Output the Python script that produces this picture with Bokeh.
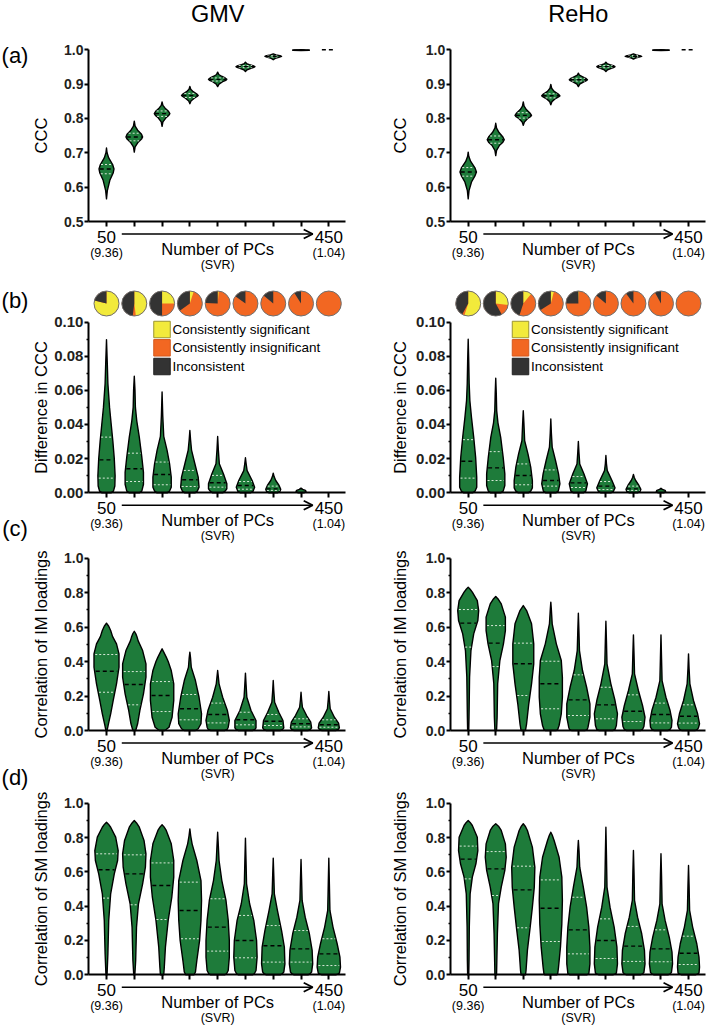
import numpy as np
from bokeh.plotting import figure
from bokeh.models import Range1d, LinearAxis, FixedTicker, PrintfTickFormatter, Arrow, OpenHead
from bokeh.core.properties import value
from bokeh.embed import file_html
from bokeh.resources import INLINE

# ---------------------------------------------------------------- data
COLUMN_TITLES = ["GMV", "ReHo"]
PANEL_TAGS = ["(a)", "(b)", "(c)", "(d)"]
Y_LABELS = ["CCC", "Difference in CCC", "Correlation of IM loadings", "Correlation of SM loadings"]
N_PCS = [50, 100, 150, 200, 250, 300, 350, 400, 450]
X_END_LABELS = ["50", "450"]
X_END_SUBLABELS = ["(9.36)", "(1.04)"]
X_TITLE = "Number of PCs"
X_SUBTITLE = "(SVR)"
LEGEND_LABELS = ["Consistently significant", "Consistently insignificant", "Inconsistent"]
Y_TICKS_A = [0.5, 0.6, 0.7, 0.8, 0.9, 1.0]
Y_TICKS_B = [0.0, 0.02, 0.04, 0.06, 0.08, 0.10]
Y_TICKS_CD = [0.0, 0.2, 0.4, 0.6, 0.8, 1.0]

# pie fractions (clockwise from 12 o'clock): significant, insignificant; rest = inconsistent
GMV_PIE_SIG = [0.79, 0.48, 0.25, 0.05, 0.015, 0.0, 0.0, 0.0, 0.0]
GMV_PIE_INSIG = [0.0, 0.04, 0.25, 0.60, 0.74, 0.85, 0.86, 0.91, 1.0]
REHO_PIE_SIG = [0.55, 0.27, 0.11, 0.04, 0.01, 0.0, 0.0, 0.0, 0.0]
REHO_PIE_INSIG = [0.03, 0.15, 0.44, 0.62, 0.74, 0.86, 0.90, 0.92, 1.0]

# violin outlines: [value, half-width] knots, bottom to top
GMV_A_SHAPE = [
    [[0.566, 0], [0.59, 0.03], [0.62, 0.12], [0.641, 0.24], [0.653, 0.27], [0.666, 0.22], [0.685, 0.08], [0.70, 0.02], [0.714, 0]],
    [[0.702, 0], [0.717, 0.03], [0.731, 0.14], [0.740, 0.26], [0.746, 0.30], [0.754, 0.26], [0.766, 0.12], [0.778, 0.03], [0.792, 0]],
    [[0.777, 0], [0.790, 0.03], [0.802, 0.14], [0.809, 0.24], [0.814, 0.28], [0.821, 0.23], [0.830, 0.11], [0.838, 0.03], [0.848, 0]],
    [[0.843, 0], [0.851, 0.04], [0.859, 0.16], [0.864, 0.26], [0.867, 0.30], [0.872, 0.24], [0.878, 0.12], [0.885, 0.03], [0.893, 0]],
    [[0.893, 0], [0.900, 0.05], [0.907, 0.18], [0.911, 0.29], [0.914, 0.33], [0.918, 0.27], [0.923, 0.14], [0.928, 0.04], [0.935, 0]],
    [[0.937, 0], [0.942, 0.06], [0.946, 0.20], [0.949, 0.30], [0.951, 0.34], [0.954, 0.27], [0.957, 0.14], [0.960, 0.04], [0.964, 0]],
    [[0.971, 0], [0.975, 0.07], [0.978, 0.20], [0.981, 0.30], [0.983, 0.24], [0.985, 0.10], [0.988, 0]],
    [[0.998, 0], [0.9985, 0.30], [0.9995, 0.30], [1.0, 0]],
    None,
]
GMV_A_MED = [0.653, 0.746, 0.814, 0.867, 0.914, 0.951, 0.981, 0.999, 1.0]
GMV_A_Q3 = [0.666, 0.757, 0.822, 0.873, 0.918, 0.954, 0.983, None, None]
GMV_A_Q1 = [0.639, 0.735, 0.806, 0.861, 0.909, 0.948, 0.979, None, None]

REHO_A_SHAPE = [
    [[0.566, 0], [0.59, 0.03], [0.615, 0.12], [0.632, 0.24], [0.644, 0.30], [0.657, 0.24], [0.675, 0.09], [0.69, 0.02], [0.702, 0]],
    [[0.692, 0], [0.707, 0.03], [0.722, 0.14], [0.731, 0.26], [0.738, 0.31], [0.746, 0.26], [0.759, 0.12], [0.772, 0.03], [0.786, 0]],
    [[0.780, 0], [0.790, 0.04], [0.800, 0.16], [0.805, 0.26], [0.809, 0.30], [0.816, 0.24], [0.826, 0.11], [0.836, 0.03], [0.848, 0]],
    [[0.840, 0], [0.849, 0.04], [0.858, 0.17], [0.863, 0.28], [0.866, 0.33], [0.871, 0.27], [0.879, 0.12], [0.888, 0.03], [0.899, 0]],
    [[0.893, 0], [0.900, 0.05], [0.906, 0.18], [0.910, 0.29], [0.913, 0.33], [0.917, 0.27], [0.922, 0.14], [0.926, 0.04], [0.932, 0]],
    [[0.937, 0], [0.942, 0.06], [0.946, 0.20], [0.949, 0.30], [0.951, 0.33], [0.954, 0.27], [0.957, 0.14], [0.960, 0.04], [0.964, 0]],
    [[0.973, 0], [0.976, 0.07], [0.979, 0.20], [0.981, 0.30], [0.983, 0.22], [0.985, 0.10], [0.988, 0]],
    [[0.998, 0], [0.9985, 0.30], [0.9995, 0.30], [1.0, 0]],
    None,
]
REHO_A_MED = [0.644, 0.738, 0.809, 0.866, 0.913, 0.951, 0.981, 0.999, 1.0]
REHO_A_Q3 = [0.657, 0.749, 0.817, 0.872, 0.917, 0.954, 0.983, None, None]
REHO_A_Q1 = [0.632, 0.728, 0.801, 0.860, 0.909, 0.948, 0.979, None, None]

GMV_B_SHAPE = [
    [[0, 0.16], [0.001, 0.25], [0.004, 0.30], [0.01, 0.31], [0.02, 0.28], [0.03, 0.23], [0.04, 0.17], [0.05, 0.11], [0.064, 0.05], [0.075, 0.03], [0.0896, 0]],
    [[0, 0.18], [0.001, 0.27], [0.005, 0.33], [0.012, 0.33], [0.021, 0.27], [0.0326, 0.18], [0.042, 0.09], [0.05, 0.04], [0.06, 0.025], [0.0682, 0]],
    [[0, 0.18], [0.001, 0.27], [0.0033, 0.33], [0.0092, 0.33], [0.017, 0.27], [0.0248, 0.18], [0.033, 0.06], [0.045, 0.025], [0.059, 0]],
    [[0, 0.18], [0.001, 0.27], [0.0033, 0.33], [0.0092, 0.30], [0.017, 0.18], [0.025, 0.06], [0.031, 0.025], [0.0365, 0]],
    [[0, 0.18], [0.001, 0.27], [0.0023, 0.33], [0.0053, 0.33], [0.011, 0.21], [0.017, 0.06], [0.025, 0.025], [0.033, 0]],
    [[0, 0.18], [0.0008, 0.27], [0.0033, 0.33], [0.0072, 0.24], [0.013, 0.06], [0.017, 0.025], [0.0205, 0]],
    [[0, 0.15], [0.0008, 0.24], [0.0021, 0.27], [0.0043, 0.21], [0.0072, 0.09], [0.0095, 0.03], [0.0115, 0]],
    [[0, 0.10], [0.0007, 0.18], [0.0014, 0.16], [0.002, 0.06], [0.0027, 0]],
    None,
]
GMV_B_MED = [0.0193, 0.0141, 0.0107, 0.0076, 0.0059, 0.0043, 0.0023, None, None]
GMV_B_Q3 = [0.0326, 0.0232, 0.018, 0.0131, 0.0102, 0.0066, 0.0039, None, None]
GMV_B_Q1 = [0.0086, 0.0066, 0.0047, 0.0037, 0.0033, 0.0021, 0.0014, None, None]

REHO_B_SHAPE = [
    [[0, 0.16], [0.001, 0.25], [0.0033, 0.31], [0.0091, 0.31], [0.0208, 0.27], [0.0325, 0.20], [0.044, 0.12], [0.054, 0.06], [0.064, 0.035], [0.077, 0.02], [0.0899, 0]],
    [[0, 0.18], [0.001, 0.27], [0.0043, 0.33], [0.0111, 0.33], [0.0208, 0.27], [0.0325, 0.18], [0.041, 0.08], [0.048, 0.035], [0.058, 0.02], [0.0671, 0]],
    [[0, 0.18], [0.001, 0.27], [0.0029, 0.33], [0.0072, 0.33], [0.015, 0.27], [0.0228, 0.17], [0.0305, 0.05], [0.04, 0.025], [0.048, 0]],
    [[0, 0.18], [0.001, 0.27], [0.0053, 0.33], [0.0111, 0.28], [0.0189, 0.17], [0.0267, 0.05], [0.035, 0.02], [0.0432, 0]],
    [[0, 0.18], [0.001, 0.27], [0.0053, 0.33], [0.0111, 0.20], [0.0169, 0.05], [0.024, 0.02], [0.030, 0]],
    [[0, 0.18], [0.0008, 0.27], [0.0029, 0.33], [0.0072, 0.22], [0.013, 0.05], [0.017, 0.02], [0.0218, 0]],
    [[0, 0.15], [0.0008, 0.24], [0.0021, 0.27], [0.0043, 0.20], [0.0072, 0.08], [0.009, 0.03], [0.0107, 0]],
    [[0, 0.10], [0.0007, 0.17], [0.0014, 0.15], [0.002, 0.05], [0.0027, 0]],
    None,
]
REHO_B_MED = [0.0185, 0.0146, 0.0101, 0.0072, 0.0058, 0.0039, 0.0023, None, None]
REHO_B_Q3 = [0.0311, 0.0241, 0.0169, 0.0134, 0.0095, 0.0066, 0.0039, None, None]
REHO_B_Q1 = [0.0086, 0.0072, 0.0047, 0.0039, 0.0031, 0.0019, 0.0014, None, None]

GMV_C_SHAPE = [
    [[0, 0.02], [0.039, 0.07], [0.097, 0.15], [0.174, 0.24], [0.271, 0.36], [0.367, 0.45], [0.445, 0.45], [0.503, 0.36], [0.545, 0.22], [0.58, 0.15], [0.605, 0.08], [0.623, 0]],
    [[0, 0.05], [0.039, 0.12], [0.116, 0.20], [0.213, 0.33], [0.309, 0.42], [0.387, 0.42], [0.464, 0.30], [0.52, 0.14], [0.542, 0.10], [0.563, 0.05], [0.576, 0]],
    [[0, 0.10], [0.019, 0.25], [0.077, 0.36], [0.174, 0.42], [0.271, 0.42], [0.348, 0.33], [0.40, 0.22], [0.426, 0.15], [0.455, 0.06], [0.474, 0]],
    [[0, 0.20], [0.01, 0.30], [0.039, 0.40], [0.097, 0.42], [0.193, 0.33], [0.290, 0.20], [0.368, 0.05], [0.42, 0.025], [0.455, 0]],
    [[0, 0.25], [0.006, 0.34], [0.019, 0.38], [0.058, 0.42], [0.116, 0.35], [0.193, 0.18], [0.271, 0.05], [0.31, 0.025], [0.348, 0]],
    [[0, 0.25], [0.006, 0.34], [0.015, 0.38], [0.058, 0.38], [0.116, 0.20], [0.193, 0.05], [0.26, 0.025], [0.333, 0]],
    [[0, 0.25], [0.006, 0.34], [0.015, 0.38], [0.058, 0.35], [0.106, 0.20], [0.164, 0.05], [0.23, 0.02], [0.290, 0]],
    [[0, 0.25], [0.006, 0.34], [0.015, 0.38], [0.048, 0.35], [0.087, 0.20], [0.135, 0.05], [0.18, 0.02], [0.222, 0]],
    [[0, 0.25], [0.006, 0.34], [0.015, 0.38], [0.043, 0.35], [0.077, 0.20], [0.126, 0.05], [0.18, 0.02], [0.226, 0]],
]
GMV_C_MED = [0.344, 0.267, 0.203, 0.126, 0.093, 0.062, 0.054, 0.039, 0.033]
GMV_C_Q3 = [0.441, 0.342, 0.284, 0.209, 0.159, 0.106, 0.093, 0.068, 0.062]
GMV_C_Q1 = [0.222, 0.149, 0.110, 0.062, 0.044, 0.033, 0.029, 0.021, 0.019]

REHO_C_SHAPE = [
    [[0, 0.02], [0.077, 0.03], [0.309, 0.05], [0.464, 0.10], [0.561, 0.20], [0.638, 0.35], [0.696, 0.38], [0.754, 0.33], [0.803, 0.15], [0.82, 0.07], [0.832, 0]],
    [[0, 0.03], [0.077, 0.05], [0.271, 0.07], [0.406, 0.15], [0.503, 0.28], [0.580, 0.35], [0.658, 0.35], [0.735, 0.20], [0.76, 0.10], [0.778, 0]],
    [[0, 0.08], [0.039, 0.12], [0.155, 0.20], [0.271, 0.30], [0.387, 0.38], [0.503, 0.38], [0.619, 0.30], [0.696, 0.12], [0.725, 0]],
    [[0, 0.20], [0.006, 0.25], [0.029, 0.30], [0.097, 0.38], [0.193, 0.42], [0.309, 0.42], [0.406, 0.38], [0.503, 0.20], [0.619, 0.05], [0.70, 0.02], [0.745, 0]],
    [[0, 0.25], [0.006, 0.32], [0.019, 0.35], [0.077, 0.42], [0.155, 0.42], [0.251, 0.30], [0.348, 0.15], [0.464, 0.04], [0.58, 0.02], [0.681, 0]],
    [[0, 0.25], [0.006, 0.33], [0.029, 0.38], [0.097, 0.42], [0.174, 0.33], [0.271, 0.18], [0.387, 0.04], [0.52, 0.02], [0.634, 0]],
    [[0, 0.25], [0.006, 0.33], [0.023, 0.38], [0.077, 0.42], [0.145, 0.33], [0.232, 0.18], [0.329, 0.04], [0.45, 0.02], [0.555, 0]],
    [[0, 0.25], [0.006, 0.33], [0.019, 0.38], [0.058, 0.40], [0.116, 0.33], [0.193, 0.18], [0.290, 0.04], [0.42, 0.02], [0.555, 0]],
    [[0, 0.25], [0.006, 0.32], [0.015, 0.36], [0.039, 0.40], [0.097, 0.33], [0.174, 0.18], [0.271, 0.05], [0.36, 0.02], [0.445, 0]],
]
REHO_C_MED = [0.623, 0.507, 0.387, 0.271, 0.178, 0.149, 0.112, 0.093, 0.083]
REHO_C_Q3 = [0.702, 0.609, 0.507, 0.402, 0.323, 0.251, 0.207, 0.159, 0.149]
REHO_C_Q1 = [0.484, 0.371, 0.203, 0.126, 0.087, 0.068, 0.052, 0.044, 0.043]

GMV_D_SHAPE = [
    [[0, 0.02], [0.122, 0.05], [0.317, 0.08], [0.472, 0.15], [0.588, 0.28], [0.666, 0.40], [0.724, 0.42], [0.802, 0.33], [0.860, 0.15], [0.878, 0.07], [0.889, 0]],
    [[0, 0.02], [0.083, 0.05], [0.278, 0.08], [0.414, 0.15], [0.530, 0.30], [0.627, 0.40], [0.705, 0.42], [0.783, 0.35], [0.860, 0.18], [0.885, 0.08], [0.899, 0]],
    [[0, 0.06], [0.045, 0.08], [0.161, 0.12], [0.317, 0.22], [0.452, 0.35], [0.569, 0.42], [0.666, 0.42], [0.763, 0.33], [0.841, 0.15], [0.862, 0.07], [0.874, 0]],
    [[0, 0.15], [0.016, 0.20], [0.083, 0.25], [0.200, 0.35], [0.317, 0.40], [0.433, 0.42], [0.549, 0.40], [0.666, 0.25], [0.763, 0.08], [0.81, 0.03], [0.850, 0]],
    [[0, 0.25], [0.006, 0.32], [0.025, 0.38], [0.103, 0.42], [0.200, 0.42], [0.317, 0.38], [0.433, 0.30], [0.549, 0.15], [0.666, 0.05], [0.75, 0.025], [0.831, 0]],
    [[0, 0.25], [0.006, 0.32], [0.025, 0.38], [0.103, 0.42], [0.200, 0.40], [0.317, 0.30], [0.414, 0.15], [0.530, 0.04], [0.67, 0.02], [0.796, 0]],
    [[0, 0.25], [0.005, 0.32], [0.016, 0.38], [0.064, 0.42], [0.161, 0.40], [0.258, 0.30], [0.375, 0.15], [0.472, 0.04], [0.58, 0.02], [0.680, 0]],
    [[0, 0.25], [0.005, 0.32], [0.016, 0.38], [0.064, 0.42], [0.142, 0.40], [0.239, 0.30], [0.336, 0.15], [0.433, 0.04], [0.56, 0.02], [0.672, 0]],
    [[0, 0.25], [0.004, 0.32], [0.010, 0.38], [0.045, 0.42], [0.103, 0.40], [0.181, 0.30], [0.278, 0.15], [0.375, 0.04], [0.53, 0.02], [0.680, 0]],
]
GMV_D_MED = [0.612, 0.588, 0.520, 0.375, 0.278, 0.200, 0.169, 0.151, 0.122]
GMV_D_Q3 = [0.705, 0.699, 0.652, 0.540, 0.443, 0.346, 0.287, 0.258, 0.210]
GMV_D_Q1 = [0.447, 0.408, 0.322, 0.210, 0.138, 0.099, 0.074, 0.074, 0.054]

REHO_D_SHAPE = [
    [[0, 0.02], [0.083, 0.03], [0.278, 0.04], [0.472, 0.07], [0.569, 0.15], [0.647, 0.28], [0.724, 0.35], [0.802, 0.33], [0.870, 0.15], [0.888, 0.07], [0.899, 0]],
    [[0, 0.03], [0.083, 0.04], [0.239, 0.06], [0.414, 0.10], [0.511, 0.20], [0.608, 0.33], [0.685, 0.38], [0.763, 0.35], [0.841, 0.20], [0.866, 0.10], [0.880, 0]],
    [[0, 0.08], [0.025, 0.10], [0.142, 0.15], [0.278, 0.25], [0.394, 0.33], [0.511, 0.40], [0.627, 0.42], [0.744, 0.33], [0.841, 0.15], [0.866, 0.07], [0.880, 0]],
    [[0, 0.22], [0.006, 0.25], [0.045, 0.28], [0.161, 0.35], [0.297, 0.40], [0.433, 0.42], [0.569, 0.40], [0.685, 0.30], [0.783, 0.12], [0.815, 0.05], [0.831, 0]],
    [[0, 0.30], [0.006, 0.38], [0.064, 0.42], [0.161, 0.42], [0.278, 0.38], [0.394, 0.30], [0.511, 0.18], [0.627, 0.05], [0.72, 0.025], [0.783, 0]],
    [[0, 0.25], [0.004, 0.32], [0.010, 0.38], [0.064, 0.42], [0.161, 0.40], [0.278, 0.30], [0.394, 0.15], [0.511, 0.04], [0.70, 0.02], [0.860, 0]],
    [[0, 0.25], [0.004, 0.32], [0.014, 0.38], [0.064, 0.42], [0.142, 0.40], [0.239, 0.30], [0.336, 0.15], [0.433, 0.04], [0.60, 0.02], [0.724, 0]],
    [[0, 0.25], [0.004, 0.32], [0.014, 0.38], [0.064, 0.42], [0.132, 0.40], [0.219, 0.30], [0.317, 0.15], [0.414, 0.04], [0.58, 0.02], [0.705, 0]],
    [[0, 0.25], [0.004, 0.32], [0.010, 0.38], [0.045, 0.40], [0.103, 0.38], [0.181, 0.30], [0.278, 0.15], [0.375, 0.04], [0.52, 0.02], [0.637, 0]],
]
REHO_D_MED = [0.674, 0.617, 0.495, 0.388, 0.262, 0.200, 0.167, 0.151, 0.126]
REHO_D_Q3 = [0.750, 0.718, 0.633, 0.553, 0.452, 0.326, 0.282, 0.262, 0.225]
REHO_D_Q1 = [0.559, 0.462, 0.274, 0.194, 0.122, 0.095, 0.078, 0.076, 0.060]

# ---------------------------------------------------------------- styles / layout
FONT = "Liberation Sans"
GREEN = "#1e7b3a"
YELLOW = "#f2ea3b"
ORANGE = "#f26722"
DARK = "#333333"
TICK_COLOR = "#231f20"

W, H = 709, 1026
REF_X0, REF_Y0, REF_W, REF_H = 0.0, 0.0, 709.0, 1026.0
COL_REF = {"GMV": (106.0, 27.79), "ReHo": (467.7, 27.54)}
PANEL_REF = {"a": (0.5, 221.0, 1.0, 49.3), "b": (0.0, 492.3, 0.10, 321.5),
             "c": (0.0, 730.0, 1.0, 557.7), "d": (0.0, 974.3, 1.0, 802.7)}
XR = {"GMV": "default", "ReHo": "right"}
YR = {"a": "default", "b": "b", "c": "c", "d": "d"}
POS = list(range(1, len(N_PCS) + 1))
YAXIS_X = 0.35
XAXIS_END = 9.6


def xval(col, rx):
    r1, step = COL_REF[col]
    return 1 + (rx - r1) / step


def yval(pk, ry):
    v0, r0, v1, r1 = PANEL_REF[pk]
    return v0 + (v1 - v0) * (ry - r0) / (r1 - r0)


def ybelow(pk, dpx):
    v0, r0, v1, r1 = PANEL_REF[pk]
    return yval(pk, r0 + dpx)


p = figure(width=W, height=H,
           x_range=Range1d(xval("GMV", REF_X0), xval("GMV", REF_X0 + REF_W)),
           y_range=Range1d(yval("a", REF_Y0 + REF_H), yval("a", REF_Y0)),
           output_backend="svg", toolbar_location=None,
           x_axis_location=None, y_axis_location=None,
           min_border=0, outline_line_color=None)
p.extra_x_ranges = {"right": Range1d(xval("ReHo", REF_X0), xval("ReHo", REF_X0 + REF_W))}
p.extra_y_ranges = {k: Range1d(yval(k, REF_Y0 + REF_H), yval(k, REF_Y0)) for k in "bcd"}
p.grid.visible = False


def text(col, pk, xs, ys, texts, size, align="center", style="normal", color="black"):
    p.text(x=xs, y=ys, text=texts, text_font=value(FONT), text_font_size=size,
           text_font_style=style, text_color=color, text_align=align, text_baseline="middle",
           x_range_name=XR[col], y_range_name=YR[pk])


PANELS = {
    ("GMV", "a"): (GMV_A_SHAPE, GMV_A_MED, GMV_A_Q1, GMV_A_Q3),
    ("ReHo", "a"): (REHO_A_SHAPE, REHO_A_MED, REHO_A_Q1, REHO_A_Q3),
    ("GMV", "b"): (GMV_B_SHAPE, GMV_B_MED, GMV_B_Q1, GMV_B_Q3),
    ("ReHo", "b"): (REHO_B_SHAPE, REHO_B_MED, REHO_B_Q1, REHO_B_Q3),
    ("GMV", "c"): (GMV_C_SHAPE, GMV_C_MED, GMV_C_Q1, GMV_C_Q3),
    ("ReHo", "c"): (REHO_C_SHAPE, REHO_C_MED, REHO_C_Q1, REHO_C_Q3),
    ("GMV", "d"): (GMV_D_SHAPE, GMV_D_MED, GMV_D_Q1, GMV_D_Q3),
    ("ReHo", "d"): (REHO_D_SHAPE, REHO_D_MED, REHO_D_Q1, REHO_D_Q3),
}
AXIS_SPEC = {
    "a": (Y_TICKS_A, [], "%.1f", "14px", Y_LABELS[0]),
    "b": (Y_TICKS_B, [0.01, 0.03, 0.05, 0.07, 0.09], "%.2f", "15px", Y_LABELS[1]),
    "c": (Y_TICKS_CD, [0.1, 0.3, 0.5, 0.7, 0.9], "%.1f", "14px", Y_LABELS[2]),
    "d": (Y_TICKS_CD, [0.1, 0.3, 0.5, 0.7, 0.9], "%.1f", "14px", Y_LABELS[3]),
}
LABEL_STANDOFF = {("GMV", "a"): 11, ("GMV", "b"): 1, ("GMV", "c"): 11, ("GMV", "d"): 11,
                  ("ReHo", "a"): 14, ("ReHo", "b"): 4, ("ReHo", "c"): 14, ("ReHo", "d"): 14}

for (col, pk), (shapes, med, q1, q3) in PANELS.items():
    xr, yr = XR[col], YR[pk]
    vx, vy = [], []
    for i, shp in enumerate(shapes):
        if not shp:
            continue
        yy = [k[0] for k in shp]
        ww = [k[1] for k in shp]
        vx.append([POS[i] + w for w in ww] + [POS[i] - w for w in ww[::-1]])
        vy.append(yy + yy[::-1])
    p.patches(vx, vy, fill_color=GREEN, line_color="black", line_width=1.4, line_join="round",
              x_range_name=xr, y_range_name=yr)

    def seg(vals, scale):
        x0, x1, y = [], [], []
        for i, v in enumerate(vals):
            if v is None:
                continue
            shp = shapes[i]
            if shp:
                hw = float(np.interp(v, [k[0] for k in shp], [k[1] for k in shp])) * scale
            else:
                hw = 0.25
            x0.append(POS[i] - hw)
            x1.append(POS[i] + hw)
            y.append(v)
        return x0, x1, y

    for vals, color, dash, lw in ((q1, "#d8e8d8", "2 2", 1.0), (q3, "#d8e8d8", "2 2", 1.0),
                                  (med, "black", "4 3", 1.4)):
        x0, x1, y = seg(vals, 0.9)
        p.segment(x0=x0, y0=y, x1=x1, y1=y, line_color=color, line_dash=dash, line_width=lw,
                  x_range_name=xr, y_range_name=yr)

    ticks, minor, fmt, fs, label = AXIS_SPEC[pk]
    yax = LinearAxis(x_range_name=xr, y_range_name=yr, fixed_location=YAXIS_X,
                     bounds=(ticks[0], ticks[-1]),
                     ticker=FixedTicker(ticks=ticks, minor_ticks=minor),
                     formatter=PrintfTickFormatter(format=fmt),
                     axis_label=label, axis_label_text_font=FONT, axis_label_text_font_size="16.5px",
                     axis_label_text_font_style="normal", axis_label_text_color="black",
                     axis_label_standoff=LABEL_STANDOFF[(col, pk)],
                     major_label_text_font=FONT, major_label_text_font_size=fs,
                     major_label_text_font_style="bold", major_label_text_color=TICK_COLOR,
                     major_label_standoff=1,
                     axis_line_width=2, axis_line_color="black",
                     major_tick_line_width=2, major_tick_line_color="black",
                     major_tick_in=0, major_tick_out=4,
                     minor_tick_in=0, minor_tick_out=2, minor_tick_line_width=1.5,
                     minor_tick_line_color="black")
    p.add_layout(yax, "left")

    base = ticks[0]
    overrides = {pos: "" for pos in POS}
    overrides[POS[0]] = X_END_LABELS[0]
    overrides[POS[-1]] = X_END_LABELS[1]
    xax = LinearAxis(x_range_name=xr, y_range_name=yr, fixed_location=base,
                     bounds=(YAXIS_X, XAXIS_END), ticker=FixedTicker(ticks=POS),
                     major_label_overrides=overrides,
                     major_label_text_font=FONT, major_label_text_font_size="17px",
                     major_label_text_color="black", major_label_standoff=4,
                     axis_line_width=2, axis_line_color="black",
                     major_tick_line_width=2, major_tick_line_color="black",
                     major_tick_in=0, major_tick_out=5)
    p.add_layout(xax, "below")
    xax2 = LinearAxis(x_range_name=xr, y_range_name=yr, fixed_location=base,
                      ticker=FixedTicker(ticks=[POS[0], POS[-1]]),
                      major_label_overrides={POS[0]: X_END_SUBLABELS[0], POS[-1]: X_END_SUBLABELS[1]},
                      major_label_text_font=FONT, major_label_text_font_size="12.5px",
                      major_label_text_color="black", major_label_standoff=24,
                      axis_line_color=None, major_tick_line_color=None,
                      major_tick_in=0, major_tick_out=0)
    p.add_layout(xax2, "below")

    # arrow and axis title
    ay = ybelow(pk, 12.5)
    p.add_layout(Arrow(x_start=1.55, y_start=ay, x_end=8.42, y_end=ay, line_width=1.6,
                       line_color="black", x_range_name=xr, y_range_name=yr,
                       end=OpenHead(size=9, line_width=1.8, line_color="black")))
    text(col, pk, [5.0], [ybelow(pk, 27.3)], [X_TITLE], "16.5px")
    text(col, pk, [5.0], [ybelow(pk, 43.0)], [X_SUBTITLE], "12.5px")

# column titles
for col, title in zip(["GMV", "ReHo"], COLUMN_TITLES):
    text(col, "a", [5.0], [yval("a", 13.0)], [title], "23.5px")

# panel tags
for pk, tag, ry in zip("abcd", PANEL_TAGS, [55.0, 300.0, 528.0, 777.0]):
    text("GMV", pk, [xval("GMV", 14.5)], [yval(pk, ry)], [tag], "22px")

# pies
pie_y = yval("b", 303.0)
R = 12.5
for col, sig, insig in (("GMV", GMV_PIE_SIG, GMV_PIE_INSIG), ("ReHo", REHO_PIE_SIG, REHO_PIE_INSIG)):
    xr = XR[col]
    p.scatter(POS, [pie_y] * len(POS), marker="circle", size=2 * R, fill_color=ORANGE,
              line_color=None, x_range_name=xr, y_range_name="b")
    for fr_start, fr_end, color in ((lambda i: 0.0, lambda i: sig[i], YELLOW),
                                    (lambda i: sig[i] + insig[i], lambda i: 1.0, DARK)):
        xs, st, en = [], [], []
        for i in range(len(POS)):
            a0, a1 = fr_start(i), fr_end(i)
            if a1 - a0 > 0.002:
                xs.append(POS[i])
                st.append(np.pi / 2 - 2 * np.pi * a0)
                en.append(np.pi / 2 - 2 * np.pi * a1)
        if xs:
            p.wedge(x=xs, y=[pie_y] * len(xs), radius=R, radius_units="screen",
                    start_angle=st, end_angle=en, direction="clock",
                    fill_color=color, line_color=None, x_range_name=xr, y_range_name="b")
    p.scatter(POS, [pie_y] * len(POS), marker="circle", size=2 * R, fill_color=None,
              line_color="#6f6f6f", line_width=1.0, x_range_name=xr, y_range_name="b")

# legends
LEG_COLORS = [YELLOW, ORANGE, DARK]
LEG_LINES = ["#9a9430", "#d4581c", "#222222"]
leg_y = [yval("b", 329.0), yval("b", 347.3), yval("b", 366.0)]
for col, sq_rx, tx_rx in (("GMV", 161.5, 172.0), ("ReHo", 520.0, 530.5)):
    p.scatter([xval(col, sq_rx)] * 3, leg_y, marker="square", size=16.5,
              fill_color=LEG_COLORS, line_color=LEG_LINES, line_width=1,
              x_range_name=XR[col], y_range_name="b")
    text(col, "b", [xval(col, tx_rx)] * 3, leg_y, LEGEND_LABELS, "13.5px", align="left")

open("out.html", "w").write(file_html(p, INLINE))
